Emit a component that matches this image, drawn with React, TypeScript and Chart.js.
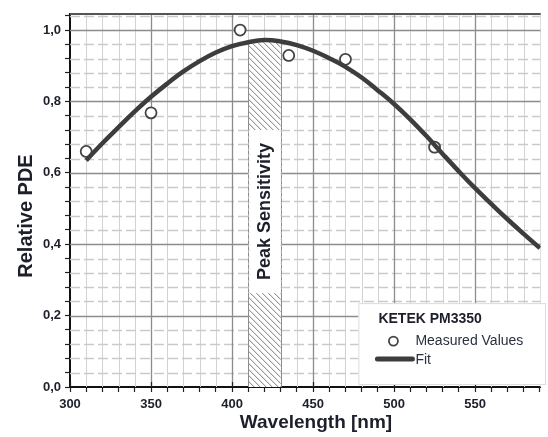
import React, { useEffect, useRef } from 'react';
import { Chart, registerables } from 'chart.js';

Chart.register(...registerables);

// ---- Data ----
const measuredWavelength = [310, 350, 405, 435, 470, 525];
const measuredPDE = [0.66, 0.768, 1.0, 0.929, 0.918, 0.672];

const fitWavelength = [310, 320, 330, 340, 350, 360, 370, 380, 390, 400, 410, 420, 430, 440, 450, 460, 470, 480, 490, 500, 510, 520, 530, 540, 550, 560, 570, 580, 590];
const fitPDE = [0.635, 0.683, 0.728, 0.772, 0.813, 0.85, 0.884, 0.913, 0.937, 0.955, 0.966, 0.972, 0.968, 0.958, 0.942, 0.921, 0.897, 0.867, 0.831, 0.793, 0.75, 0.703, 0.653, 0.604, 0.557, 0.513, 0.47, 0.429, 0.389];

const xMajorTicks = [300, 350, 400, 450, 500, 550];
const yMajorTicks = [0, 0.2, 0.4, 0.6, 0.8, 1.0];
const X_MIN = 300;
const X_MAX = 590.5;
const X_MINOR_STEP = 10;
const Y_MIN = 0;
const Y_MAX = 1.045;
const Y_MINOR_STEP = 0.04;

const peakBand = [410, 430];
const peakTop = 0.972;
const peakLabelRange = [0.263, 0.72];
const peakLabel = 'Peak Sensitivity';

const legendTitle = 'KETEK PM3350';
const legendMeasured = 'Measured Values';
const legendFit = 'Fit';
const xTitle = 'Wavelength [nm]';
const yTitle = 'Relative PDE';

const FONT = '"Liberation Sans", Arial, sans-serif';
const TEXT = '#1d1f2b';

const minorX: number[] = [];
for (let i = 0; X_MIN + i * X_MINOR_STEP <= X_MAX; i++) minorX.push(X_MIN + i * X_MINOR_STEP);
const minorY: number[] = [];
for (let i = 0; i * Y_MINOR_STEP <= Y_MAX + 1e-9; i++) minorY.push(+(i * Y_MINOR_STEP).toFixed(2));

const isMajor = (v: number, arr: number[]) => arr.some((m) => Math.abs(m - v) < 1e-6);

const gridPlugin = {
  id: 'customGrid',
  beforeDatasetsDraw(chart: any) {
    const { ctx, chartArea, scales } = chart;
    const { left, right, top, bottom } = chartArea;
    const x = scales.x;
    const y = scales.y;
    ctx.save();
    ctx.beginPath();
    ctx.rect(left, top, right - left, bottom - top);
    ctx.clip();

    // minor vertical
    ctx.strokeStyle = '#d2d2d2';
    ctx.lineWidth = 1;
    ctx.setLineDash([]);
    minorX.forEach((v) => {
      if (isMajor(v, xMajorTicks)) return;
      const px = Math.round(x.getPixelForValue(v)) + 0.5;
      ctx.beginPath();
      ctx.moveTo(px, top);
      ctx.lineTo(px, bottom);
      ctx.stroke();
    });
    // minor horizontal dashed
    ctx.strokeStyle = '#cacaca';
    ctx.lineWidth = 1.3;
    ctx.setLineDash([10, 4]);
    minorY.forEach((v) => {
      if (isMajor(v, yMajorTicks)) return;
      const py = Math.round(y.getPixelForValue(v)) + 0.5;
      ctx.beginPath();
      ctx.moveTo(left, py);
      ctx.lineTo(right, py);
      ctx.stroke();
    });
    // major
    ctx.setLineDash([]);
    ctx.strokeStyle = '#8c8c8c';
    ctx.lineWidth = 1.3;
    xMajorTicks.forEach((v) => {
      if (v === X_MIN) return;
      const px = Math.round(x.getPixelForValue(v)) + 0.5;
      ctx.beginPath();
      ctx.moveTo(px, top);
      ctx.lineTo(px, bottom);
      ctx.stroke();
    });
    yMajorTicks.forEach((v) => {
      if (v === Y_MIN) return;
      const py = Math.round(y.getPixelForValue(v)) + 0.5;
      ctx.beginPath();
      ctx.moveTo(left, py);
      ctx.lineTo(right, py);
      ctx.stroke();
    });

    // peak band
    const x0 = x.getPixelForValue(peakBand[0]);
    const x1 = x.getPixelForValue(peakBand[1]);
    const yT = y.getPixelForValue(peakTop);
    ctx.fillStyle = '#ffffff';
    ctx.fillRect(x0, yT, x1 - x0, bottom - yT);
    ctx.save();
    ctx.beginPath();
    ctx.rect(x0, yT, x1 - x0, bottom - yT);
    ctx.clip();
    ctx.strokeStyle = '#7a7a7a';
    ctx.lineWidth = 1;
    const h = bottom - yT;
    for (let k = x0 - h; k < x1 + 2; k += 6) {
      ctx.beginPath();
      ctx.moveTo(k, yT);
      ctx.lineTo(k + h, bottom);
      ctx.stroke();
    }
    ctx.restore();
    ctx.strokeStyle = '#8c8c8c';
    ctx.lineWidth = 1;
    [x0, x1].forEach((px) => {
      ctx.beginPath();
      ctx.moveTo(Math.round(px) + 0.5, yT);
      ctx.lineTo(Math.round(px) + 0.5, bottom);
      ctx.stroke();
    });
    ctx.beginPath();
    ctx.moveTo(x0, yT + 0.5);
    ctx.lineTo(x1, yT + 0.5);
    ctx.stroke();

    // white label box
    const bTop = y.getPixelForValue(peakLabelRange[1]);
    const bBot = y.getPixelForValue(peakLabelRange[0]);
    ctx.fillStyle = '#ffffff';
    ctx.fillRect(x0 + 1, bTop, x1 - x0 - 1, bBot - bTop);
    ctx.strokeStyle = '#b0b0b0';
    ctx.setLineDash([3, 3]);
    [x0, x1].forEach((px) => {
      ctx.beginPath();
      ctx.moveTo(Math.round(px) + 0.5, bTop);
      ctx.lineTo(Math.round(px) + 0.5, bBot);
      ctx.stroke();
    });
    ctx.setLineDash([]);
    ctx.translate((x0 + x1) / 2 + 1, (bTop + bBot) / 2);
    ctx.rotate(-Math.PI / 2);
    ctx.fillStyle = TEXT;
    ctx.font = `bold 18px ${FONT}`;
    ctx.textAlign = 'center';
    ctx.textBaseline = 'middle';
    ctx.fillText(peakLabel, 0, 0);
    ctx.restore();

    // top border
    ctx.save();
    ctx.strokeStyle = '#555555';
    ctx.lineWidth = 2;
    ctx.beginPath();
    ctx.moveTo(left, top);
    ctx.lineTo(right, top);
    ctx.stroke();
    // inward major ticks on x axis
    ctx.strokeStyle = '#222';
    ctx.lineWidth = 1.2;
    xMajorTicks.forEach((v) => {
      const px = Math.round(x.getPixelForValue(v)) + 0.5;
      ctx.beginPath();
      ctx.moveTo(px, bottom);
      ctx.lineTo(px, bottom - 5);
      ctx.stroke();
    });
    ctx.restore();
  },
  afterDatasetsDraw(chart: any) {
    const { ctx, chartArea, scales } = chart;
    const { bottom } = chartArea;
    const x = scales.x;
    const y = scales.y;
    ctx.save();
    // legend box
    const lx = x.getPixelForValue(478);
    const ly = y.getPixelForValue(0.235);
    const rx = 545;
    ctx.fillStyle = '#ffffff';
    ctx.fillRect(lx, ly, rx - lx, bottom - 2 - ly);
    ctx.strokeStyle = '#dddddd';
    ctx.lineWidth = 1;
    ctx.strokeRect(lx + 0.5, ly + 0.5, rx - lx, bottom - 3 - ly);

    ctx.fillStyle = TEXT;
    ctx.textBaseline = 'middle';
    ctx.textAlign = 'left';
    ctx.font = `bold 14px ${FONT}`;
    ctx.fillText(legendTitle, lx + 20, ly + 16);
    ctx.font = `14px ${FONT}`;
    ctx.fillStyle = '#2a3040';
    ctx.fillText(legendMeasured, lx + 57, ly + 38);
    ctx.fillText(legendFit, lx + 57, ly + 57);
    ctx.beginPath();
    ctx.arc(lx + 35, ly + 38, 4.5, 0, Math.PI * 2);
    ctx.fillStyle = '#fff';
    ctx.fill();
    ctx.strokeStyle = '#444';
    ctx.lineWidth = 1.8;
    ctx.stroke();
    ctx.beginPath();
    ctx.lineCap = 'round';
    ctx.strokeStyle = '#3d3d3d';
    ctx.lineWidth = 5;
    ctx.moveTo(lx + 19, ly + 56);
    ctx.lineTo(lx + 54, ly + 56);
    ctx.stroke();
    ctx.restore();
  },
  afterDraw(chart: any) {
    const { ctx } = chart;
    ctx.save();
    ctx.fillStyle = TEXT;
    ctx.textAlign = 'center';
    ctx.textBaseline = 'middle';
    ctx.font = `bold 19px ${FONT}`;
    ctx.fillText(xTitle, 316, 423);
    ctx.translate(26, 216);
    ctx.rotate(-Math.PI / 2);
    ctx.font = `bold 20px ${FONT}`;
    ctx.fillText(yTitle, 0, 0);
    ctx.restore();
  },
};

export default function App() {
  const ref = useRef<HTMLCanvasElement | null>(null);
  useEffect(() => {
    document.body.style.margin = '0';
    const canvas = ref.current;
    if (!canvas) return;
    const chart = new Chart(canvas, {
      type: 'scatter',
      data: {
        datasets: [
          {
            label: legendFit,
            data: fitWavelength.map((w, i) => ({ x: w, y: fitPDE[i] })),
            showLine: true,
            borderColor: '#3d3d3d',
            borderWidth: 4.5,
            pointRadius: 0,
            tension: 0.4,
            fill: false,
          } as any,
          {
            label: legendMeasured,
            data: measuredWavelength.map((w, i) => ({ x: w, y: measuredPDE[i] })),
            pointRadius: 5.5,
            pointBackgroundColor: '#ffffff',
            pointBorderColor: '#444444',
            pointBorderWidth: 1.8,
            showLine: false,
          } as any,
        ],
      },
      options: {
        responsive: false,
        animation: false,
        layout: { padding: { top: 14, left: 0, right: 0, bottom: 0 } },
        plugins: { legend: { display: false }, tooltip: { enabled: false } },
        scales: {
          x: {
            type: 'linear',
            min: X_MIN,
            max: X_MAX,
            afterBuildTicks: (s: any) => {
              s.ticks = minorX.map((v) => ({ value: v }));
            },
            afterFit: (s: any) => {
              s.height = 50;
            },
            grid: { drawOnChartArea: false, drawTicks: true, tickLength: 5, tickColor: '#222', tickWidth: 1.2 },
            border: { color: '#111', width: 2 },
            ticks: {
              autoSkip: false,
              maxRotation: 0,
              minRotation: 0,
              padding: 5,
              color: TEXT,
              font: { family: FONT, size: 13, weight: 'bold' },
              callback: (v: any) => (isMajor(Number(v), xMajorTicks) ? String(v) : ''),
            },
          },
          y: {
            type: 'linear',
            min: Y_MIN,
            max: Y_MAX,
            afterBuildTicks: (s: any) => {
              s.ticks = minorY.map((v) => ({ value: v }));
            },
            afterFit: (s: any) => {
              s.width = 70;
            },
            grid: { drawOnChartArea: false, drawTicks: true, tickLength: 5, tickColor: '#222', tickWidth: 1.2 },
            border: { color: '#111', width: 2 },
            ticks: {
              autoSkip: false,
              padding: 4,
              color: TEXT,
              font: { family: FONT, size: 13, weight: 'bold' },
              callback: (v: any) => (isMajor(Number(v), yMajorTicks) ? Number(v).toFixed(1).replace('.', ',') : ''),
            },
          },
        },
      } as any,
      plugins: [gridPlugin],
    });
    return () => chart.destroy();
  }, []);
  return <canvas ref={ref} width={548} height={437} style={{ display: 'block' }} />;
}
